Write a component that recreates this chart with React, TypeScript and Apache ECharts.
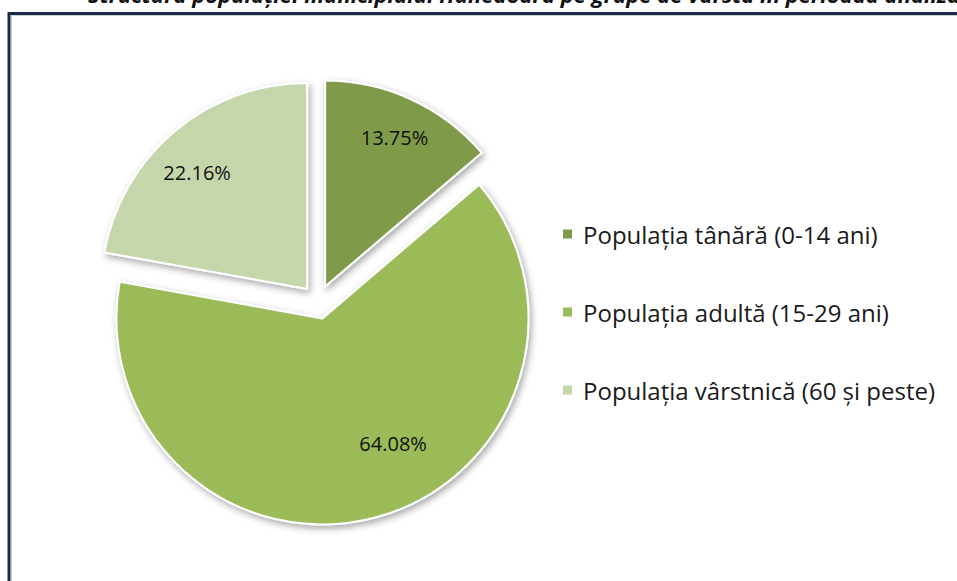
import React, { useEffect, useRef } from "react";
import * as echarts from "echarts";

const categories = [
  "Populația tânără (0-14 ani)",
  "Populația adultă (15-29 ani)",
  "Populația vârstnică (60 și peste)",
];
const shares = [13.75, 64.08, 22.16];
const sliceColors = ["#7f9b4a", "#9bbb59", "#c5d6ab"];
const labelShift = [
  [25, -53],
  [43, 23],
  [-42, -35],
];
const titleText =
  "Structura populației municipiului Hunedoara pe grupe de vârstă în perioada analizată";

export default function App() {
  const ref = useRef<HTMLDivElement>(null);
  useEffect(() => {
    if (!ref.current) return;
    const chart = echarts.init(ref.current, undefined, { renderer: "svg" });
    chart.setOption({
      animation: false,
      backgroundColor: "#ffffff",
      graphic: [
        {
          type: "text",
          x: 88,
          y: 5,
          style: {
            text: titleText,
            fontFamily: "Open Sans",
            fontWeight: "bold",
            fontStyle: "italic",
            fontSize: 22,
            fill: "#111111",
            verticalAlign: "bottom",
          },
        },
        {
          type: "rect",
          shape: { x: 9, y: 13.5, width: 1200, height: 1200 },
          style: { fill: "none", stroke: "#1c2b4a", lineWidth: 3 },
        },
        {
          type: "rect",
          shape: { x: 11.5, y: 15.5, width: 1200, height: 1200 },
          style: { fill: "none", stroke: "#c9ced8", lineWidth: 1 },
        },
      ],
      legend: {
        orient: "vertical",
        left: 561,
        top: 222,
        padding: 0,
        itemWidth: 11,
        itemHeight: 11,
        itemGap: 54,
        icon: "rect",
        textStyle: {
          fontFamily: "Open Sans",
          fontSize: 24,
          color: "#1a1a1a",
          padding: [0, 0, 0, 5],
        },
        data: categories,
      },
      series: [
        {
          type: "pie",
          center: [318, 302],
          radius: 206,
          startAngle: 90,
          clockwise: true,
          selectedMode: "multiple",
          selectedOffset: 17,
          avoidLabelOverlap: false,
          itemStyle: {
            borderColor: "#ffffff",
            borderWidth: 2,
            shadowBlur: 7,
            shadowOffsetX: 2,
            shadowOffsetY: 3,
            shadowColor: "rgba(0,0,0,0.35)",
          },
          label: {
            show: true,
            position: "inside",
            formatter: (p: any) => p.value.toFixed(2) + "%",
            fontFamily: "Open Sans",
            fontSize: 20,
            color: "#111111",
          },
          labelLayout: (p: any) => ({
            dx: labelShift[p.dataIndex][0],
            dy: labelShift[p.dataIndex][1],
          }),
          labelLine: { show: false },
          emphasis: { disabled: true },
          data: categories.map((name, i) => ({
            name,
            value: shares[i],
            selected: true,
            itemStyle: { color: sliceColors[i] },
          })),
        },
      ],
    });
    return () => chart.dispose();
  }, []);
  return (
    <div
      ref={ref}
      style={{ position: "absolute", left: 0, top: 0, width: 957, height: 581 }}
    />
  );
}
